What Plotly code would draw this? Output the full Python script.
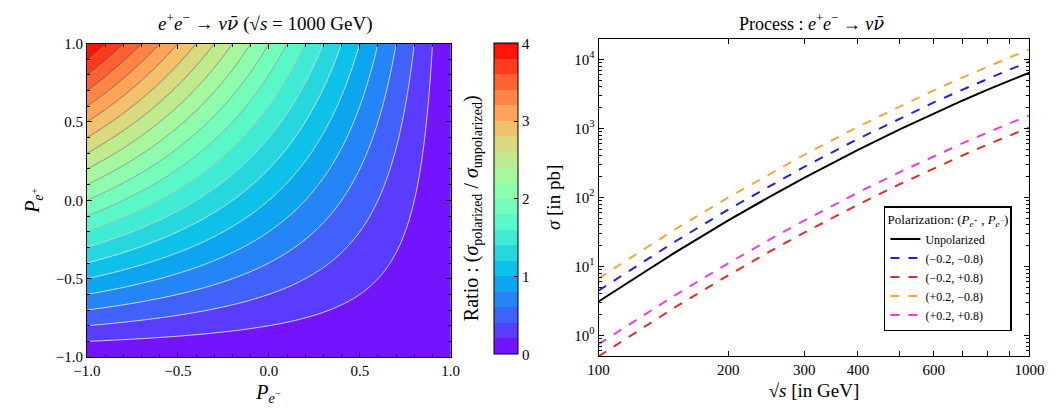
import numpy as np
import plotly.graph_objects as go

# ---------------- data ----------------
# Left panel: polarisation grid and ratio surface R = (1 - P_e-)(1 + P_e+)
pe_minus = np.linspace(-1.0, 1.0, 201)
pe_plus = np.linspace(-1.0, 1.0, 201)
ratio = np.outer(1.0 + pe_plus, 1.0 - pe_minus)  # rows: P_e+, cols: P_e-

# Right panel: cross sections (pb)
sqrt_s = [100, 125, 150, 200, 250, 300, 400, 500, 600, 700, 800, 900, 1000]
sigma_unpol = [3.1, 7.68, 15.7, 46.4, 103, 192, 490, 972, 1656, 2549, 3652, 4962, 6470]
sigma_m02_m08 = [4.46, 11.06, 22.6, 66.8, 148, 277, 706, 1400, 2385, 3670, 5260, 7145, 9320]
sigma_m02_p08 = [0.496, 1.23, 2.52, 7.42, 16.5, 30.8, 78.5, 155.5, 265, 408, 584, 794, 1035]
sigma_p02_m08 = [6.70, 16.6, 34.0, 100, 222, 415, 1059, 2100, 3577, 5506, 7888, 10718, 13977]
sigma_p02_p08 = [0.744, 1.84, 3.77, 11.1, 24.7, 46.1, 117.7, 233, 397, 612, 876, 1191, 1553]

series_labels = ["Unpolarized", "(−0.2, −0.8)", "(−0.2, +0.8)", "(+0.2, −0.8)", "(+0.2, +0.8)"]
series_values = [sigma_unpol, sigma_m02_m08, sigma_m02_p08, sigma_p02_m08, sigma_p02_p08]
series_colors = ["#000000", "#1f1fe6", "#e62a2a", "#f2a93b", "#ee3ce0"]
series_dash = ["solid", "dash", "dash", "dash", "dash"]

x_tickvals = [100, 200, 300, 400, 500, 600, 700, 800, 900, 1000]
x_ticktext = ["100", "200", "300", "400", "", "600", "", "", "", "1000"]
y_tickvals = [1, 10, 100, 1000, 10000]
y_ticktext = ["10<sup>0</sup>", "10<sup>1</sup>", "10<sup>2</sup>", "10<sup>3</sup>", "10<sup>4</sup>"]

# ---------------- style helpers ----------------
FONT = "Liberation Serif"
NUBAR = "<i>ν</i><span style='font-family:DejaVu Serif'><i>ν̄</i></span>"


def rainbow(x):
    r = min(1.0, abs(2 * x - 0.5))
    g = np.sin(np.pi * x)
    b = np.cos(np.pi * x / 2)
    return "rgb(%d,%d,%d)" % (round(r * 255), round(g * 255), round(b * 255))


cscale = [[t, rainbow(t)] for t in np.linspace(0, 1, 21)]
line_scale = [[0.0, "rgb(255,255,255)"], [0.3, "rgb(235,235,235)"],
              [0.45, "rgb(150,150,150)"], [1.0, "rgb(70,70,70)"]]

fig = go.Figure()

fig.add_trace(go.Contour(
    x=pe_minus, y=pe_plus, z=ratio,
    colorscale=cscale, zmin=0, zmax=4,
    contours=dict(start=0, end=4, size=0.2, coloring="fill", showlines=False),
    line=dict(width=0),
    colorbar=dict(
        x=493 / 1060, xanchor="left", xref="paper", xpad=0, ypad=0,
        y=(417 - 198.5) / 417, yanchor="middle", len=323 / 417, lenmode="fraction",
        thickness=24, outlinecolor="black", outlinewidth=1,
        tickvals=[0, 1, 2, 3, 4], ticks="inside", ticklen=4, tickcolor="black",
        tickfont=dict(family=FONT, size=15, color="black"),
    ),
    xaxis="x", yaxis="y", showscale=True, hoverinfo="skip",
))

fig.add_trace(go.Contour(
    x=pe_minus, y=pe_plus, z=ratio,
    colorscale=line_scale, zmin=0, zmax=4,
    contours=dict(start=0.2, end=3.8, size=0.2, coloring="lines"),
    line=dict(width=0.8), showscale=False,
    xaxis="x", yaxis="y", hoverinfo="skip",
))

for lab, vals, col, dash in zip(series_labels, series_values, series_colors, series_dash):
    fig.add_trace(go.Scatter(
        x=sqrt_s, y=vals, mode="lines", name=lab,
        line=dict(color=col, width=2, dash=dash),
        xaxis="x2", yaxis="y2",
    ))

axis_common = dict(
    showline=True, linecolor="black", linewidth=1, mirror="allticks",
    ticks="inside", ticklen=5, tickcolor="black", showgrid=False, zeroline=False,
    tickfont=dict(family=FONT, size=15, color="black"),
)

fig.update_layout(
    width=1060, height=417,
    margin=dict(l=0, r=0, t=0, b=0),
    paper_bgcolor="white", plot_bgcolor="white",
    font=dict(family=FONT, color="black"),
    showlegend=True,
    xaxis=dict(domain=[75 / 1060, 449 / 1060], range=[-1, 1], anchor="y",
               tickvals=[-1, -0.5, 0, 0.5, 1], ticktext=["−1.0", "−0.5", "0.0", "0.5", "1.0"],
               minor=dict(dtick=0.1, ticks="inside", ticklen=3, tickcolor="black"),
               title=dict(text="<i>P<sub>e<sup>−</sup></sub></i>", font=dict(family=FONT, size=20), standoff=6),
               **axis_common),
    yaxis=dict(domain=[(417 - 363) / 417, (417 - 37) / 417], range=[-1, 1], anchor="x",
               tickvals=[-1, -0.5, 0, 0.5, 1], ticktext=["−1.0", "−0.5", "0.0", "0.5", "1.0"],
               minor=dict(dtick=0.1, ticks="inside", ticklen=3, tickcolor="black"),
               title=dict(text="<i>P<sub>e<sup>+</sup></sub></i>", font=dict(family=FONT, size=20), standoff=10),
               **axis_common),
    xaxis2=dict(domain=[601 / 1060, 1044 / 1060], type="log", range=[2, 3], anchor="y2",
                tickvals=x_tickvals, ticktext=x_ticktext,
                title=dict(text="√<i>s</i> [in GeV]",
                           font=dict(family=FONT, size=19), standoff=6),
                **axis_common),
    yaxis2=dict(domain=[(417 - 362) / 417, (417 - 32) / 417], type="log",
                range=[np.log10(0.5), np.log10(2.0e4)], anchor="x2",
                tickvals=y_tickvals, ticktext=y_ticktext,
                minor=dict(tickvals=[m * 10 ** k for k in range(-1, 5) for m in range(2, 10)],
                           ticks="inside", ticklen=3, tickcolor="black"),
                title=dict(text="<i>σ</i> [in pb]", font=dict(family=FONT, size=19), standoff=8),
                **axis_common),
    legend=dict(
        x=1026 / 1060, xanchor="right", y=(417 - 336) / 417, yanchor="bottom",
        bgcolor="white", bordercolor="black", borderwidth=1.5,
        font=dict(family=FONT, size=12, color="black"),
        title=dict(text="Polarization: (<i>P<sub>e<sup>+</sup></sub></i> , <i>P<sub>e<sup>−</sup></sub></i>)",
                   font=dict(family=FONT, size=13), side="top center"),
        tracegroupgap=0, itemwidth=30,
    ),
    annotations=[
        dict(text="<i>e</i><sup>+</sup><i>e</i><sup>−</sup> → " + NUBAR + " (√<i>s</i> = 1000 GeV)",
             x=258 / 1060, y=(417 - 15) / 417, xref="paper", yref="paper",
             showarrow=False, font=dict(family=FONT, size=19), xanchor="center", yanchor="middle"),
        dict(text="Process : <i>e</i><sup>+</sup><i>e</i><sup>−</sup> → " + NUBAR,
             x=820 / 1060, y=(417 - 15) / 417, xref="paper", yref="paper",
             showarrow=False, font=dict(family=FONT, size=18), xanchor="center", yanchor="middle"),
        dict(text="Ratio : (<i>σ</i><sub>polarized</sub> / <i>σ</i><sub>unpolarized</sub>)",
             x=471 / 1060, y=(417 - 208) / 417, xref="paper", yref="paper", textangle=-90,
             showarrow=False, font=dict(family=FONT, size=20), xanchor="center", yanchor="middle"),
    ],
)

fig.write_html("out.html")
